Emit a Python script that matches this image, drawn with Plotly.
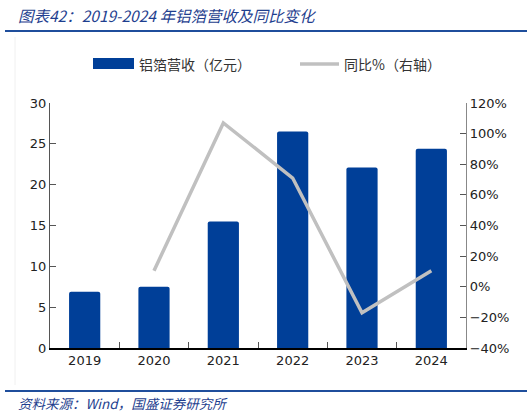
import plotly.graph_objects as go

years = ['2019', '2020', '2021', '2022', '2023', '2024']
revenue = [6.9, 7.5, 15.5, 26.5, 22.1, 24.4]  # 亿元
yoy = [None, 10.5, 107, 71, -17, 10.5]  # %

blue = '#003f98'
grey = '#c0c0c0'
cn = 'Noto Sans CJK SC'
num = 'DejaVu Sans'

# plot area in px: x 50..466, y 103..348
L, R, T, B = 50, 466, 103, 348
W, H = R - L, B - T
px = lambda x: (x - L) / W
py = lambda y: (B - y) / H

fig = go.Figure()
fig.add_trace(go.Bar(x=years, y=revenue, name='铝箔营收（亿元）',
                     marker=dict(color=blue, line=dict(width=0), cornerradius=2),
                     width=0.45))
fig.add_trace(go.Scatter(x=years, y=yoy, name='同比%（右轴）', yaxis='y2',
                         mode='lines', line=dict(color=grey, width=3.5)))

fig.update_layout(
    width=532, height=416,
    margin=dict(l=L, r=532 - R, t=T, b=416 - B, autoexpand=False),
    plot_bgcolor='white', paper_bgcolor='white',
    font=dict(family=num, size=13, color='#222222'),
    showlegend=False,
    bargap=0.55,
    xaxis=dict(showline=True, linecolor='black', linewidth=1.5,
               ticks='inside', tickson='boundaries', ticklen=6, tickcolor='#555555',
               tickfont=dict(size=13), showgrid=False),
    yaxis=dict(range=[0, 30], dtick=5, showline=True, linecolor='#555555', linewidth=1.2,
               ticks='inside', ticklen=6, tickcolor='#555555', showgrid=False,
               zeroline=False, tickfont=dict(size=13)),
    yaxis2=dict(range=[-40, 120], dtick=20, overlaying='y', side='right',
                showline=True, linecolor='#888888', linewidth=1.2,
                ticks='inside', ticklen=6, tickcolor='#555555', showgrid=False,
                zeroline=False, ticksuffix='%', tickfont=dict(size=13)),
)

# legend drawn by hand so the bar key can be a wide block like the original
fig.add_shape(type='rect', xref='paper', yref='paper',
              x0=px(93), x1=px(134), y0=py(69), y1=py(58),
              fillcolor=blue, line=dict(width=0))
fig.add_shape(type='line', xref='paper', yref='paper',
              x0=px(300), x1=px(339), y0=py(64), y1=py(64),
              line=dict(color=grey, width=3.5))
fig.add_annotation(text='铝箔营收（亿元）', xref='paper', yref='paper',
                   x=px(137), y=py(64), xanchor='left', yanchor='middle', showarrow=False,
                   font=dict(family=cn, size=14, color='#333333'))
fig.add_annotation(text='同比%（右轴）', xref='paper', yref='paper',
                   x=px(342), y=py(64), xanchor='left', yanchor='middle', showarrow=False,
                   font=dict(family=cn, size=14, color='#333333'))

fig.add_annotation(text='<i>图表42：2019-2024 年铝箔营收及同比变化</i>',
                   xref='paper', yref='paper', x=px(16), y=py(15),
                   xanchor='left', yanchor='middle', showarrow=False,
                   font=dict(family=cn, size=15.5, color='#1f3f8f'))
fig.add_annotation(text='<i>资料来源：Wind，国盛证券研究所</i>',
                   xref='paper', yref='paper', x=px(16), y=py(403),
                   xanchor='left', yanchor='middle', showarrow=False,
                   font=dict(family=cn, size=13.5, color='#1f3f8f'))

for yy in (31, 391):
    fig.add_shape(type='line', xref='paper', yref='paper',
                  x0=px(5), x1=px(527), y0=py(yy), y1=py(yy),
                  line=dict(color='#1f4e9c', width=2.2))
fig.add_shape(type='line', xref='paper', yref='paper',
              x0=px(15), x1=px(15), y0=py(37), y1=py(385),
              line=dict(color='#f0f0f0', width=1))

# drop the browser's default body margin so the figure sits at the page corner
fig.write_html('out.html', config={'displayModeBar': False},
               post_script="document.body.style.margin='0';")
